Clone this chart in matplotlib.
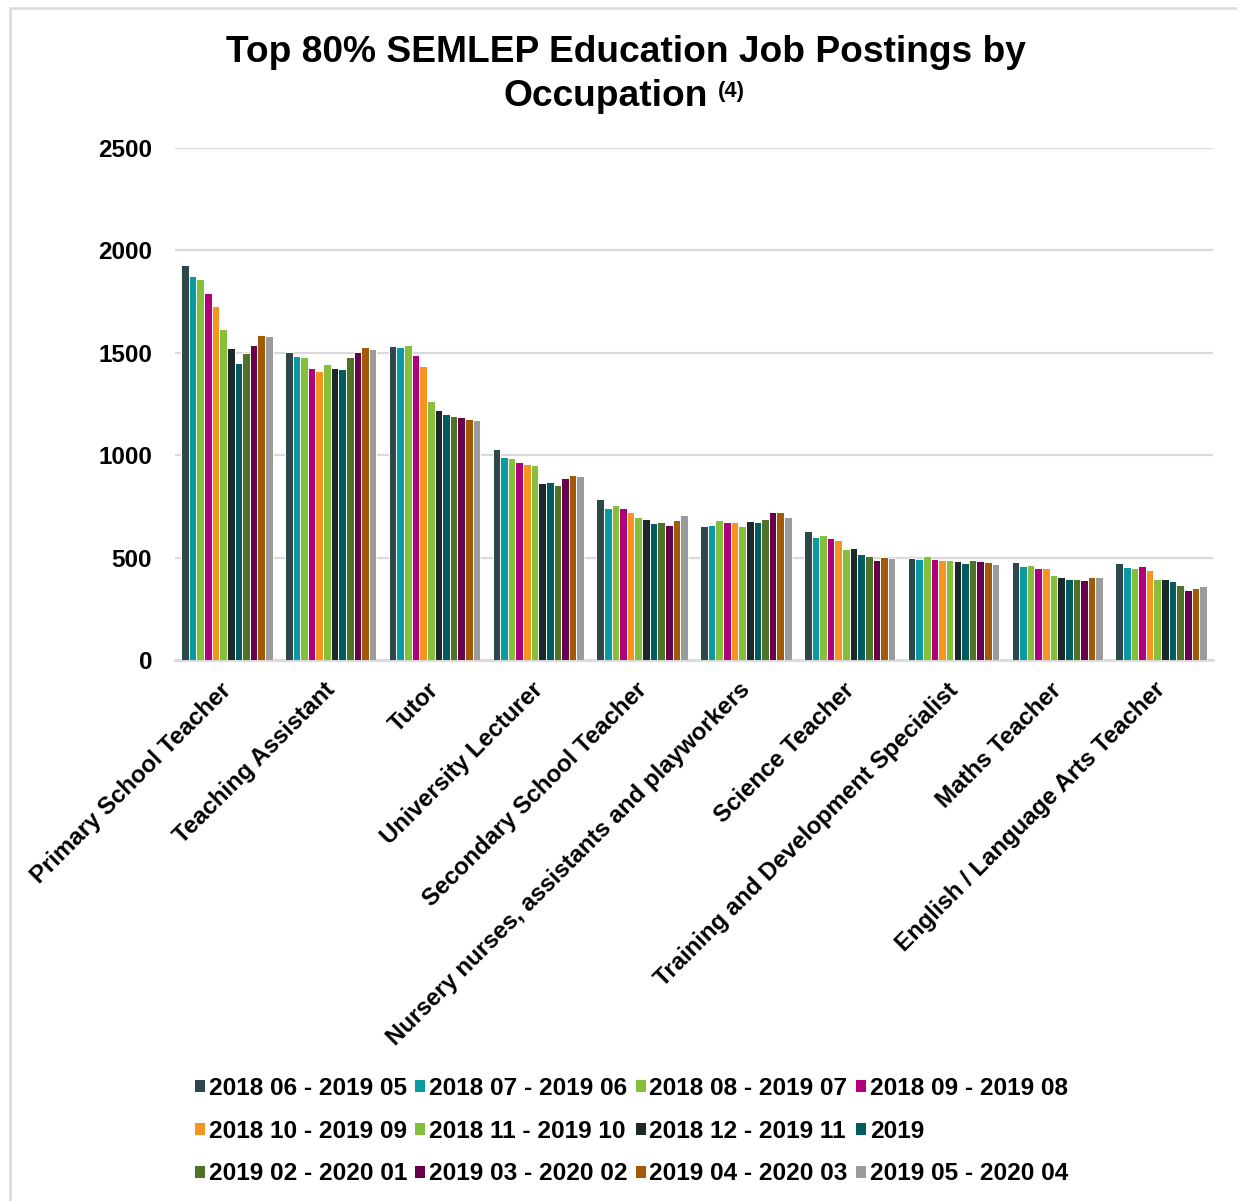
import numpy as np
import matplotlib
matplotlib.use("Agg")
import matplotlib.pyplot as plt
from matplotlib import font_manager
from matplotlib.patches import Rectangle
from matplotlib.transforms import ScaledTranslation

plt.rcParams['font.family'] = ['Liberation Sans', 'DejaVu Sans']
plt.rcParams['font.weight'] = 'bold'

# fuente estrecha (como Arial Narrow) si existe
nombres = {f.name for f in font_manager.fontManager.ttflist}
if 'Liberation Sans Narrow' in nombres:
    ESTRECHA = ['Liberation Sans Narrow', 'Liberation Sans']
    escala = 1.0
else:
    ESTRECHA = ['Liberation Sans', 'DejaVu Sans']
    escala = 0.835

# ---------- datos ----------
ocupaciones = [
    "Primary School Teacher", "Teaching Assistant", "Tutor",
    "University Lecturer", "Secondary School Teacher",
    "Nursery nurses, assistants and playworkers", "Science Teacher",
    "Training and Development Specialist", "Maths Teacher",
    "English / Language Arts Teacher",
]

periodos = [
    "2018 06 - 2019 05", "2018 07 - 2019 06", "2018 08 - 2019 07",
    "2018 09 - 2019 08", "2018 10 - 2019 09", "2018 11 - 2019 10",
    "2018 12 - 2019 11", "2019", "2019 02 - 2020 01",
    "2019 03 - 2020 02", "2019 04 - 2020 03", "2019 05 - 2020 04",
]

# una fila por ocupacion, una columna por periodo
primary = [1929, 1875, 1859, 1790, 1729, 1616, 1522, 1452, 1501, 1538, 1587, 1582]
teaching = [1505, 1484, 1481, 1424, 1413, 1447, 1427, 1421, 1481, 1502, 1527, 1519]
tutor = [1533, 1527, 1538, 1489, 1436, 1265, 1221, 1201, 1190, 1185, 1177, 1174]
lecturer = [1030, 991, 986, 965, 959, 951, 864, 871, 853, 887, 903, 900]
secondary = [785, 741, 757, 741, 724, 700, 687, 669, 675, 658, 682, 710]
nursery = [654, 658, 682, 675, 675, 653, 677, 672, 688, 721, 721, 697]
science = [630, 602, 610, 596, 584, 540, 547, 518, 508, 490, 501, 496]
training = [496, 495, 509, 495, 487, 487, 483, 474, 490, 482, 477, 469]
maths = [477, 461, 464, 449, 449, 417, 404, 397, 396, 389, 407, 407]
english = [475, 453, 449, 461, 438, 396, 394, 384, 368, 342, 353, 363]

valores = np.array([primary, teaching, tutor, lecturer, secondary,
                    nursery, science, training, maths, english])

colores = ["#2D474B", "#0A9AA1", "#85BF3B", "#B1007C", "#F7941F", "#85BF3B",
           "#1C292B", "#035C60", "#4E7327", "#68004B", "#A35A06", "#9B9B9B"]

# ---------- figura ----------
fig = plt.figure(figsize=(12.37, 12.01), dpi=100)
ax = fig.add_axes([175 / 1237, 1 - 660 / 1201, (1213 - 175) / 1237, (660 - 148) / 1201])

n_grupos = len(ocupaciones)
n_series = len(periodos)
ancho_grupo = 0.88
ancho = ancho_grupo / n_series
x = np.arange(n_grupos)

barras = []
for i, (periodo, color) in enumerate(zip(periodos, colores)):
    desplaz = -ancho_grupo / 2 + ancho * (i + 0.5)
    b = ax.bar(x + desplaz, valores[:, i], width=ancho, color=color,
               edgecolor="white", linewidth=0.7, label=periodo, zorder=3)
    barras.append(b)

ax.set_xlim(-0.5, n_grupos - 0.5)
ax.set_ylim(0, 2500)
ax.set_yticks([0, 500, 1000, 1500, 2000, 2500])
ax.yaxis.grid(True, color="#D9D9D9", linewidth=1.6, zorder=0)
ax.set_axisbelow(True)

for lado in ["top", "right", "left"]:
    ax.spines[lado].set_visible(False)
ax.spines["bottom"].set_color("#D9D9D9")
ax.spines["bottom"].set_linewidth(2)

ax.tick_params(axis="y", length=0, pad=16.5, labelsize=17.5)
ax.tick_params(axis="x", length=0, pad=6)
ax.set_xticks(x)
ax.set_xticklabels(ocupaciones, rotation=45, ha="right", va="top",
                   rotation_mode="anchor", fontsize=17.3)
desvio = ScaledTranslation(-7 / 100, -10 / 100, fig.dpi_scale_trans)
for etiqueta in ax.get_xticklabels():
    etiqueta.set_transform(etiqueta.get_transform() + desvio)

# titulo
fig.text(626 / 1237, 1 - 53 / 1201, "Top 80% SEMLEP Education Job Postings by",
         ha="center", va="center", fontsize=32 * escala, fontweight="bold",
         family=ESTRECHA)
fig.text(708 / 1237, 1 - 96 / 1201, "Occupation",
         ha="right", va="center", fontsize=32 * escala, fontweight="bold",
         family=ESTRECHA)
fig.text(718 / 1237, 1 - 91 / 1201, "(4)",
         ha="left", va="center", fontsize=19 * escala, fontweight="bold",
         family=ESTRECHA)

# leyenda: orden por filas
orden = [0, 4, 8, 1, 5, 9, 2, 6, 10, 3, 7, 11]
ax.legend([barras[k] for k in orden], [periodos[k] for k in orden],
          loc="center", bbox_to_anchor=(631 / 1237, 1 - 1131 / 1201),
          bbox_transform=fig.transFigure, ncol=4, frameon=False,
          prop={"family": ESTRECHA, "weight": "bold", "size": 21 * escala},
          handlelength=0.45, handleheight=0.45,
          handletextpad=0.15, columnspacing=0.3, labelspacing=0.82)

# marco gris alrededor del grafico
fig.patches.append(Rectangle((10 / 1237, -0.05), 1.1, 1 - 8 / 1201 + 0.05,
                             transform=fig.transFigure, fill=False,
                             edgecolor="#D9D9D9", linewidth=1.8))

fig.savefig("out.png", dpi=100)
